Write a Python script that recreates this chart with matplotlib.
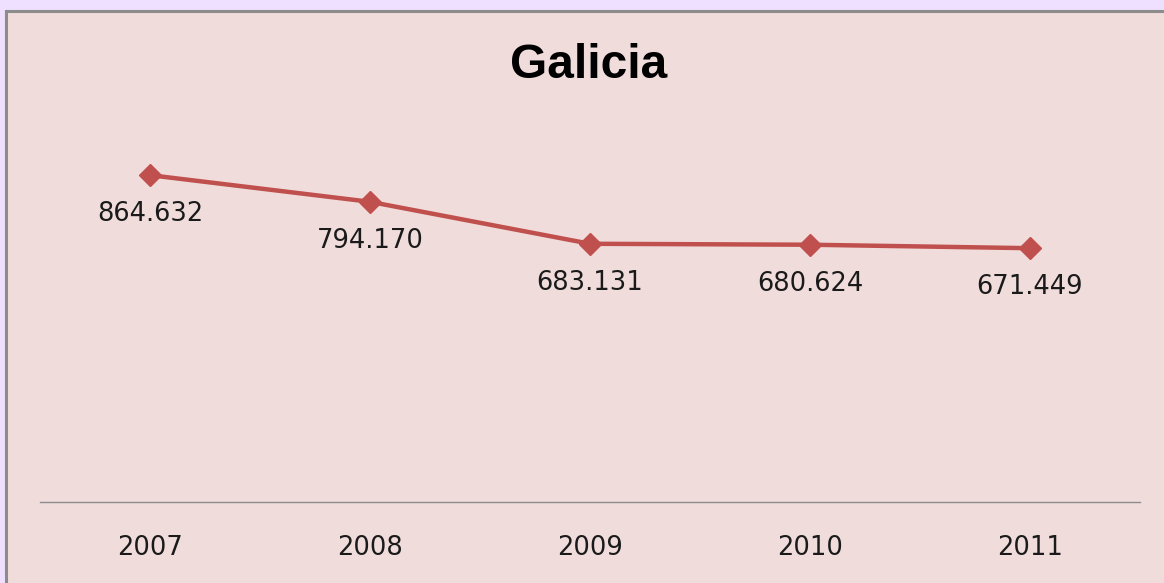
import matplotlib
matplotlib.use("Agg")
import matplotlib.pyplot as plt
from matplotlib.patches import Rectangle

title = "Galicia"
years = ["2007", "2008", "2009", "2010", "2011"]
values = [864.632, 794.170, 683.131, 680.624, 671.449]
value_labels = ["864.632", "794.170", "683.131", "680.624", "671.449"]

W, H = 1164, 583
fig = plt.figure(figsize=(W / 100, H / 100), dpi=100)
fig.patch.set_facecolor("#EEE0FE")
# pink chart panel with grey border
fig.patches.append(Rectangle((6 / W, -0.05), 1.2, (H - 11) / H + 0.05, transform=fig.transFigure,
                             facecolor="#F0DCDB", edgecolor="#8C8C8C", linewidth=2.2, zorder=-5))

ax = fig.add_axes([40 / W, (H - 502) / H, 1100 / W, 378 / H])
ax.set_zorder(2)
ax.set_facecolor("none")
x = list(range(len(years)))
ax.plot(x, values, color="#C0504D", linewidth=3.2, marker="D", markersize=11, zorder=3)
for xi, v, lab in zip(x, values, value_labels):
    ax.annotate(lab, (xi, v), xytext=(0, -28), textcoords="offset points",
                ha="center", va="center", fontsize=18.5, color="#1A1A1A",
                family=["DejaVu Sans"])

ax.set_xlim(-0.5, len(years) - 0.5)
ax.set_ylim(0, 1000)
ax.set_xticks(x)
ax.set_xticklabels(years, fontsize=18.5, color="#1A1A1A", family=["DejaVu Sans"])
ax.tick_params(axis="x", length=0, pad=24)
ax.set_yticks([])
for s in ["top", "left", "right"]:
    ax.spines[s].set_visible(False)
ax.spines["bottom"].set_color("#8C8C8C")
ax.spines["bottom"].set_linewidth(1.0)

fig.text(589 / W, 1 - 65 / H, title, ha="center", va="center", fontsize=34.5,
         fontweight="bold", family=["Liberation Sans"], color="black", zorder=3)

fig.savefig("out.png", dpi=100, facecolor=fig.get_facecolor())
